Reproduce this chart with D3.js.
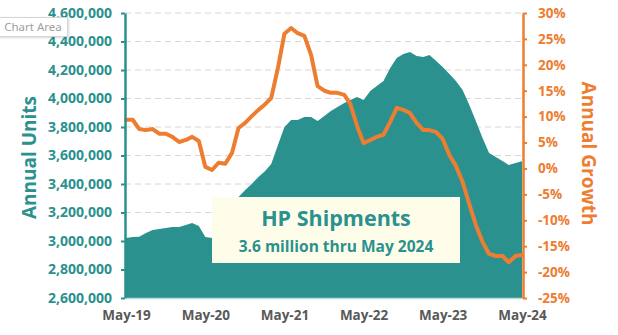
<!DOCTYPE html>
<html>
<head>
<meta charset="utf-8">
<script src="https://cdn.jsdelivr.net/npm/d3@7"></script>
<style>
  html, body { margin: 0; padding: 0; background: #ffffff; }
  svg { display: block; font-family: "Open Sans", "DejaVu Sans", sans-serif; }
</style>
</head>
<body>
<svg id="chart" width="618" height="335"></svg>
<script>
// Monthly series, May 2019 through May 2024
const startMonth = new Date(2019, 4, 1);

// Trailing-twelve-month HP unit shipments
const annualUnits = [
  3021000, 3028000, 3030000, 3056000, 3077000, 3084000, 3091000, 3098000, 3098000, 3112000, 3126000, 3105000,
  3028000, 3021000, 3112000, 3204000, 3260000, 3309000, 3358000, 3400000, 3449000, 3491000, 3540000, 3674000,
  3800000, 3849000, 3849000, 3870000, 3870000, 3842000, 3877000, 3912000, 3940000, 3968000, 3989000, 4011000,
  3989000, 4053000, 4088000, 4123000, 4214000, 4284000, 4312000, 4326000, 4298000, 4291000, 4305000, 4263000,
  4221000, 4172000, 4123000, 4060000, 3954000, 3842000, 3723000, 3618000, 3590000, 3561000, 3533000, 3547000,
  3560000
];

// Year-over-year growth of the annual total, in percent
const annualGrowth = [
  9.4, 9.4, 7.6, 7.4, 7.6, 6.7, 6.7, 6.1, 5.1, 5.5, 6.1, 5.3,
  0.3, -0.3, 1.1, 0.9, 3.0, 7.8, 8.8, 10.1, 11.3, 12.4, 13.6, 19.4,
  26.0, 27.1, 26.1, 25.6, 21.9, 15.9, 15.0, 14.6, 14.6, 14.2, 12.4, 8.2,
  4.9, 5.5, 6.1, 6.5, 9.0, 11.7, 11.3, 10.7, 8.8, 7.4, 7.4, 7.0,
  5.7, 2.6, 0.5, -2.6, -6.9, -10.9, -14.2, -16.5, -16.9, -16.9, -18.1, -16.9,
  -16.7
];

const unitTicks = [2600000, 2800000, 3000000, 3200000, 3400000, 3600000, 3800000, 4000000, 4200000, 4400000, 4600000];
const growthTicks = [-25, -20, -15, -10, -5, 0, 5, 10, 15, 20, 25, 30];
const yearTicks = [2019, 2020, 2021, 2022, 2023, 2024].map(y => new Date(y, 4, 1));

const titleText = "HP Shipments";
const subtitleText = "3.6 million thru May 2024";

const TEAL = "#2a918e";
const ORANGE = "#ed7d31";

const rows = annualUnits.map((u, i) => ({
  date: new Date(startMonth.getFullYear(), startMonth.getMonth() + i, 1),
  units: u,
  growth: annualGrowth[i]
}));

const svg = d3.select("#chart");
const plot = { left: 125, right: 523, top: 13, bottom: 298 };

const x = d3.scaleTime()
  .domain(d3.extent(rows, d => d.date))
  .range([plot.left + 1, plot.right - 1]);
const yL = d3.scaleLinear().domain([2600000, 4600000]).range([plot.bottom, plot.top]);
const yR = d3.scaleLinear().domain([-25, 30]).range([plot.bottom, plot.top]);

// Dashed horizontal gridlines at the unit ticks
svg.append("g")
  .selectAll("line")
  .data(unitTicks.slice(1))
  .join("line")
  .attr("x1", plot.left)
  .attr("x2", plot.right)
  .attr("y1", d => yL(d))
  .attr("y2", d => yL(d))
  .attr("stroke", "#d6d6d6")
  .attr("stroke-width", 1)
  .attr("stroke-dasharray", "6,4");

// Annual units area
svg.append("path")
  .datum(rows)
  .attr("fill", TEAL)
  .attr("d", d3.area()
    .x(d => x(d.date))
    .y0(yL(2600000))
    .y1(d => yL(d.units)));

// Annual growth line
svg.append("path")
  .datum(rows)
  .attr("fill", "none")
  .attr("stroke", ORANGE)
  .attr("stroke-width", 4)
  .attr("stroke-linejoin", "round")
  .attr("stroke-linecap", "round")
  .attr("d", d3.line()
    .x(d => x(d.date))
    .y(d => yR(d.growth)));

// Bottom axis with year labels
const xAxis = svg.append("g")
  .attr("transform", `translate(0,${plot.bottom})`)
  .call(d3.axisBottom(x).tickValues(yearTicks).tickFormat(d3.timeFormat("%b-%y")).tickSize(0).tickPadding(12));
xAxis.select(".domain").attr("stroke", "#b8dcdb").attr("stroke-width", 1.5);
xAxis.selectAll("text")
  .attr("fill", "#595959")
  .attr("font-size", "13.5px")
  .attr("font-weight", 700)
  .attr("font-family", "'Open Sans', sans-serif");

// Left axis (units)
const leftAxis = svg.append("g")
  .attr("transform", `translate(${plot.left},0)`)
  .call(d3.axisLeft(yL).tickValues(unitTicks).tickFormat(d3.format(",")).tickSize(4).tickSizeOuter(0).tickPadding(9));
leftAxis.select(".domain").attr("stroke", TEAL).attr("stroke-width", 2.5);
leftAxis.selectAll(".tick line").attr("stroke", TEAL).attr("stroke-width", 2);
leftAxis.selectAll("text")
  .attr("fill", TEAL)
  .attr("font-size", "14px")
  .attr("font-weight", 700)
  .attr("font-family", "'Open Sans', sans-serif");

// Right axis (growth)
const rightAxis = svg.append("g")
  .attr("transform", `translate(${plot.right},0)`)
  .call(d3.axisRight(yR).tickValues(growthTicks).tickFormat(d => d + "%").tickSize(4).tickSizeOuter(0).tickPadding(11));
rightAxis.select(".domain").attr("stroke", ORANGE).attr("stroke-width", 2.5);
rightAxis.selectAll(".tick line").attr("stroke", ORANGE).attr("stroke-width", 2);
rightAxis.selectAll("text")
  .attr("fill", ORANGE)
  .attr("font-size", "13.5px")
  .attr("font-weight", 700)
  .attr("font-family", "'Open Sans', sans-serif");

// Axis titles
svg.append("text")
  .attr("transform", `translate(36,${(plot.top + plot.bottom) / 2 + 2}) rotate(-90)`)
  .attr("text-anchor", "middle")
  .attr("fill", TEAL)
  .attr("font-size", "19px")
  .attr("font-weight", 700)
  .text("Annual Units");

svg.append("text")
  .attr("transform", `translate(582,${(plot.top + plot.bottom) / 2 - 2}) rotate(90)`)
  .attr("text-anchor", "middle")
  .attr("fill", ORANGE)
  .attr("font-size", "19px")
  .attr("font-weight", 700)
  .text("Annual Growth");

// Title panel
const panel = svg.append("g");
panel.append("rect")
  .attr("x", 212).attr("y", 197)
  .attr("width", 248).attr("height", 66)
  .attr("fill", "#fdfde9");
panel.append("text")
  .attr("x", 336).attr("y", 226)
  .attr("text-anchor", "middle")
  .attr("fill", TEAL)
  .attr("font-size", "21.5px")
  .attr("font-weight", 700)
  .text(titleText);
panel.append("text")
  .attr("x", 336).attr("y", 252)
  .attr("text-anchor", "middle")
  .attr("fill", TEAL)
  .attr("font-size", "15.5px")
  .attr("font-weight", 700)
  .text(subtitleText);

// Hover tag over the chart area
const tag = svg.append("g");
tag.append("rect")
  .attr("x", -1.5).attr("y", 17.5)
  .attr("width", 69).attr("height", 19)
  .attr("fill", "#ffffff")
  .attr("stroke", "#d4d4d4")
  .attr("stroke-width", 1)
  .style("filter", "drop-shadow(1px 1px 1px rgba(0,0,0,0.15))");
tag.append("text")
  .attr("x", 33).attr("y", 30.5)
  .attr("text-anchor", "middle")
  .attr("fill", "#a0a0a0")
  .attr("font-size", "11.5px")
  .attr("font-family", "'Noto Sans', sans-serif")
  .text("Chart Area");
</script>
</body>
</html>
